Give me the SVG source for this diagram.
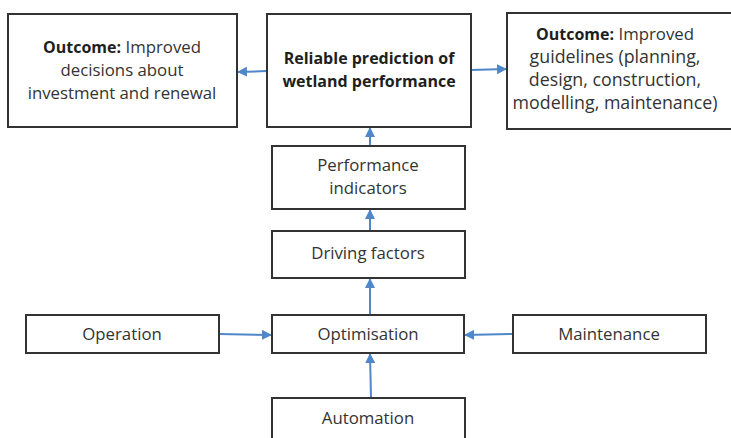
<svg xmlns="http://www.w3.org/2000/svg" width="731" height="438" viewBox="0 0 731 438">
<style>
.box{fill:#fff;stroke:#333;stroke-width:2}
.t{font-family:"Open Sans","Liberation Sans",sans-serif;font-size:16.8px;fill:#333;text-anchor:middle}
.b{font-weight:bold;fill:#1e1e1e}
.g{font-size:17.8px}
.c{stroke:#4f87c9;stroke-width:2;fill:none;marker-end:url(#ah)}
</style>
<defs>
<marker id="ah" viewBox="0 0 10 10" refX="9" refY="5" markerWidth="5" markerHeight="5" orient="auto" markerUnits="strokeWidth">
<path d="M0,0 L10,5 L0,10 z" fill="#4f87c9"/>
</marker>
</defs>
<rect width="731" height="438" fill="#fff"/>
<g id="connectors">
<line class="c" x1="267" y1="71" x2="238" y2="72"/>
<line class="c" x1="471" y1="70" x2="506" y2="69"/>
<line class="c" x1="370" y1="146" x2="370" y2="128"/>
<line class="c" x1="370" y1="231" x2="370" y2="210"/>
<line class="c" x1="370" y1="315" x2="370" y2="279"/>
<line class="c" x1="219" y1="334" x2="271" y2="335"/>
<line class="c" x1="513" y1="334" x2="465" y2="335"/>
<line class="c" x1="371" y1="398" x2="370" y2="354"/>
</g>
<g id="outcome-decisions">
<rect class="box" x="8" y="14" width="229" height="113"/>
<text class="t" x="122" y="53"><tspan class="b" style="font-size:16px">Outcome:</tspan> Improved</text>
<text class="t" x="122" y="76">decisions about</text>
<text class="t" x="122" y="99">investment and renewal</text>
</g>
<g id="reliable-prediction">
<rect class="box" x="267" y="14" width="204" height="113"/>
<text class="t b" x="369" y="64" style="font-size:16px">Reliable prediction of</text>
<text class="t b" x="369" y="87" style="font-size:16px">wetland performance</text>
</g>
<g id="outcome-guidelines">
<rect class="box" x="507" y="13" width="230" height="116"/>
<text class="t" x="615" y="40"><tspan class="b" style="font-size:16px">Outcome:</tspan> Improved</text>
<text class="t g" x="615" y="63">guidelines (planning,</text>
<text class="t g" x="615" y="86">design, construction,</text>
<text class="t g" x="615" y="109">modelling, maintenance)</text>
</g>
<g id="performance-indicators">
<rect class="box" x="272" y="146" width="193" height="63"/>
<text class="t" x="368" y="171">Performance</text>
<text class="t" x="368" y="194">indicators</text>
</g>
<g id="driving-factors">
<rect class="box" x="272" y="231" width="193" height="47"/>
<text class="t" x="368" y="259">Driving factors</text>
</g>
<g id="operation">
<rect class="box" x="26" y="315" width="193" height="38"/>
<text class="t" x="122" y="340">Operation</text>
</g>
<g id="optimisation">
<rect class="box" x="272" y="315" width="192" height="38"/>
<text class="t" x="368" y="340">Optimisation</text>
</g>
<g id="maintenance">
<rect class="box" x="513" y="315" width="193" height="38"/>
<text class="t" x="609" y="340">Maintenance</text>
</g>
<g id="automation">
<rect class="box" x="272" y="398" width="193" height="50"/>
<text class="t" x="368" y="424">Automation</text>
</g>
</svg>
